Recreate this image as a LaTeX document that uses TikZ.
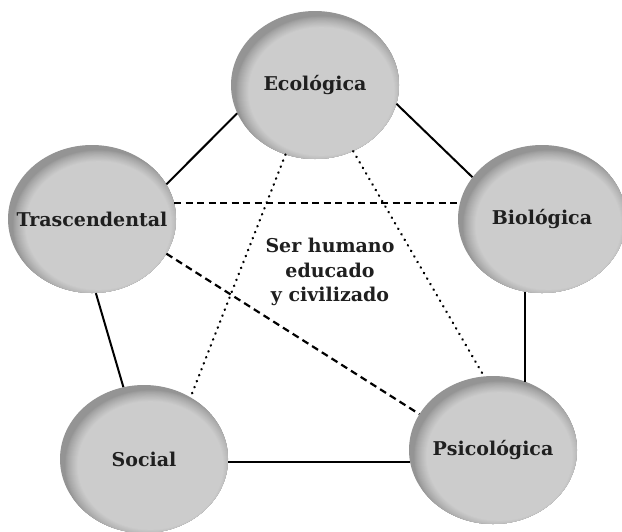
\documentclass[tikz,border=0pt]{standalone}
\usepackage{fontspec}
\setmainfont{DejaVu Serif}
\usetikzlibrary{shapes.geometric}

\definecolor{orblo}{gray}{0.58}
\definecolor{inktext}{gray}{0.12}

\tikzset{
  % grey ball: light body shifted to the lower right over a darker rim
  orbnode/.style={ellipse, minimum width=168pt, minimum height=148pt,
    inner sep=0pt, fill=orblo,
    path picture={
      \foreach \a in {86,85,...,73}{
        \pgfmathsetmacro{\pct}{59+21*((86-\a)/13)^0.8}
        \pgfmathsetmacro{\b}{\a*74/84}
        \fill[white!\pct!black]
          ([shift={(6.5,6.5)}]path picture bounding box.center)
          ellipse [x radius=\a pt, y radius=\b pt];
      }},
    font=\bfseries\fontsize{19}{22}\selectfont, text=inktext},
  solidlink/.style={line width=2pt, black},
  dashlink/.style={line width=2.2pt, black, dash pattern=on 7pt off 4.5pt},
  dotlink/.style={line width=2.4pt, black, line cap=round,
    dash pattern=on 0.4pt off 6pt},
}
% label set in a zero-width box so that the ellipse keeps its size
\newcommand{\orbtext}[1]{\makebox[0pt]{#1}}

\begin{document}
\begin{tikzpicture}[x=1pt, y=-1pt]
  \useasboundingbox (0,0) rectangle (622,531);

  \node[orbnode] (eco) at (315,85)  {\orbtext{Ecológica}};
  \node[orbnode] (tra) at (92,219)  {\orbtext{Trascendental}};
  \node[orbnode] (bio) at (542,219) {\orbtext{Biológica}};
  \node[orbnode] (soc) at (144,459) {\orbtext{Social}};
  \node[orbnode] (psi) at (493,450) {\orbtext{Psicológica}};

  \node[align=center, font=\bfseries\fontsize{19}{24.5}\selectfont,
        text=inktext] (core) at (330,272)
        {Ser humano\\educado\\y civilizado};

  % outer ring
  \draw[solidlink] (eco.200)   -- (tra.25.3);
  \draw[solidlink] (eco.-13.2) -- (bio.149.9);
  \draw[solidlink] (tra.-87.7) -- (soc.106.7);
  \draw[solidlink] (bio.257.6) -- (bio.257.6 |- psi.64.1);
  \draw[solidlink] (soc.-2)    -- (soc.-2 -| psi.188);

  % inner links
  \draw[dashlink] (tra.11.6)  -- (tra.11.6 -| bio.168);
  \draw[dashlink] (tra.-25.3) -- (psi.154);
  \draw[dotlink]  (eco.-113.2) -- (soc.53.4);
  \draw[dotlink]  (eco.-60.4)  -- (psi.97.7);
\end{tikzpicture}
\end{document}
